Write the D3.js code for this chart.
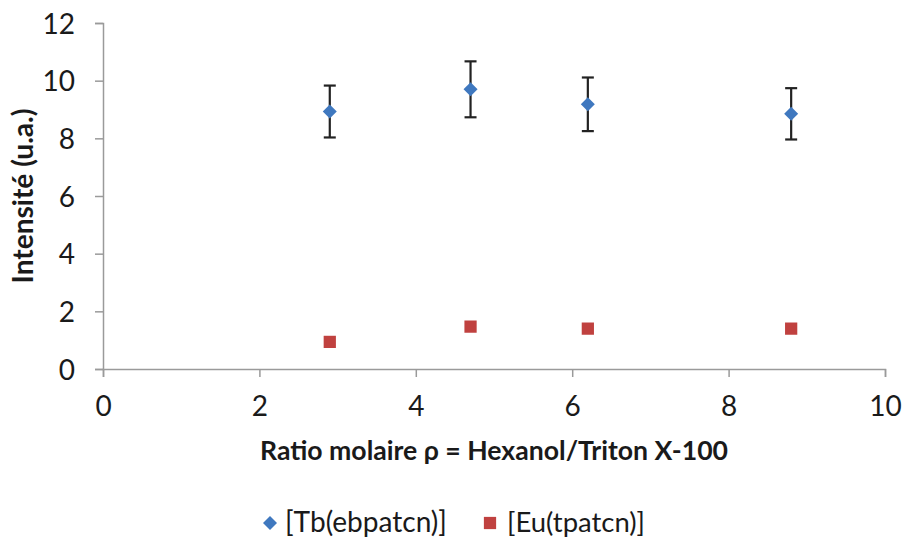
<!DOCTYPE html>
<html>
<head>
<meta charset="utf-8">
<script src="https://cdn.jsdelivr.net/npm/d3@7"></script>
<style>
  html, body { margin: 0; padding: 0; background: #fff; }
  svg { display: block; }
  text { font-family: Lato, "Open Sans", sans-serif; fill: #1a1a1a; }
</style>
</head>
<body>
<svg id="chart" width="904" height="540"></svg>
<script>
// Molar ratio rho (x) for each sample
const ratios = [2.9, 4.7, 6.2, 8.8];
// Emission intensity of the terbium complex and its standard deviation
const tbValues = [8.93, 9.70, 9.18, 8.85];
const tbErrors = [0.90, 0.97, 0.93, 0.89];
// Emission intensity of the europium complex
const euValues = [0.94, 1.47, 1.40, 1.40];

const xTicks = [0, 2, 4, 6, 8, 10];
const yTicks = [0, 2, 4, 6, 8, 10, 12];

const seriesNames = ["[Tb(ebpatcn)]", "[Eu(tpatcn)]"];
const colors = { tb: "#3f78bf", eu: "#c0413f" };

const svg = d3.select("#chart");
const margin = { left: 103, right: 19, top: 23, bottom: 172 };
const W = 904, H = 540;

const x = d3.scaleLinear().domain([0, 10]).range([margin.left, W - margin.right]);
const y = d3.scaleLinear().domain([0, 12]).range([H - margin.bottom + 1, margin.top]);

const axisColor = "#9a9a9a";

// Shrink or grow a text's font size so it spans the wanted width
function fitWidth(sel, width) {
  const node = sel.node();
  const size = parseFloat(sel.style("font-size"));
  const w = node.getComputedTextLength();
  sel.style("font-size", (size * width / w).toFixed(2) + "px");
}

// Y axis
const yAxis = svg.append("g")
  .attr("transform", `translate(${margin.left},0)`)
  .call(d3.axisLeft(y).tickValues(yTicks).tickSize(8).tickPadding(20).tickFormat(d3.format("d")));
yAxis.select(".domain").attr("stroke", axisColor).attr("stroke-width", 1.5);
yAxis.selectAll(".tick line").attr("stroke", axisColor).attr("stroke-width", 1.5);
yAxis.selectAll(".tick text").style("font-size", "28px").attr("fill", "#1a1a1a").attr("dy", "0.36em");

// X axis
const xAxis = svg.append("g")
  .attr("transform", `translate(0,${y(0)})`)
  .call(d3.axisBottom(x).tickValues(xTicks).tickSize(8).tickPadding(19).tickFormat(d3.format("d")));
xAxis.select(".domain").attr("stroke", axisColor).attr("stroke-width", 1.5);
xAxis.selectAll(".tick line").attr("stroke", axisColor).attr("stroke-width", 1.5);
xAxis.selectAll(".tick text").style("font-size", "28px").attr("fill", "#1a1a1a").attr("dy", "0.71em");

// Axis titles
const xTitle = svg.append("text")
  .attr("x", (x(0) + x(10)) / 2)
  .attr("y", 460)
  .attr("text-anchor", "middle")
  .style("font-size", "26px")
  .style("font-weight", "bold")
  .text("Ratio molaire ρ = Hexanol/Triton X-100");
fitWidth(xTitle, 468);

const yTitle = svg.append("text")
  .attr("transform", `translate(33,${(y(0) + y(12)) / 2}) rotate(-90)`)
  .attr("text-anchor", "middle")
  .style("font-size", "27px")
  .style("font-weight", "bold")
  .text("Intensité (u.a.)");
fitWidth(yTitle, 175);

// Error bars for the Tb series
const tbData = ratios.map((r, i) => ({ r, v: tbValues[i], e: tbErrors[i] }));
const euData = ratios.map((r, i) => ({ r, v: euValues[i] }));

const eb = svg.append("g").attr("stroke", "#222").attr("stroke-width", 2.2);
eb.selectAll("line.v").data(tbData).join("line")
  .attr("x1", d => x(d.r)).attr("x2", d => x(d.r))
  .attr("y1", d => y(d.v + d.e)).attr("y2", d => y(d.v - d.e));
eb.selectAll("line.t").data(tbData.flatMap(d => [d.v + d.e, d.v - d.e].map(v => ({ r: d.r, v })))).join("line")
  .attr("x1", d => x(d.r) - 6).attr("x2", d => x(d.r) + 6)
  .attr("y1", d => y(d.v)).attr("y2", d => y(d.v));

// Markers
const diamond = d3.symbol().type(d3.symbolDiamond2).size(125);
const square = d3.symbol().type(d3.symbolSquare).size(150);

svg.append("g").selectAll("path").data(tbData).join("path")
  .attr("d", diamond)
  .attr("transform", d => `translate(${x(d.r)},${y(d.v)})`)
  .attr("fill", colors.tb);

svg.append("g").selectAll("path").data(euData).join("path")
  .attr("d", square)
  .attr("transform", d => `translate(${x(d.r)},${y(d.v)})`)
  .attr("fill", colors.eu);

// Legend
const legend = svg.append("g");
const items = [
  { name: seriesNames[0], sym: diamond, color: colors.tb, mx: 270, tx: 285, w: 162 },
  { name: seriesNames[1], sym: square, color: colors.eu, mx: 490, tx: 507, w: 138 }
];
items.forEach(it => {
  legend.append("path")
    .attr("d", it.sym)
    .attr("transform", `translate(${it.mx},523)`)
    .attr("fill", it.color);
  const t = legend.append("text")
    .attr("x", it.tx).attr("y", 532)
    .style("font-size", "27px")
    .text(it.name);
  fitWidth(t, it.w);
});
</script>
</body>
</html>
